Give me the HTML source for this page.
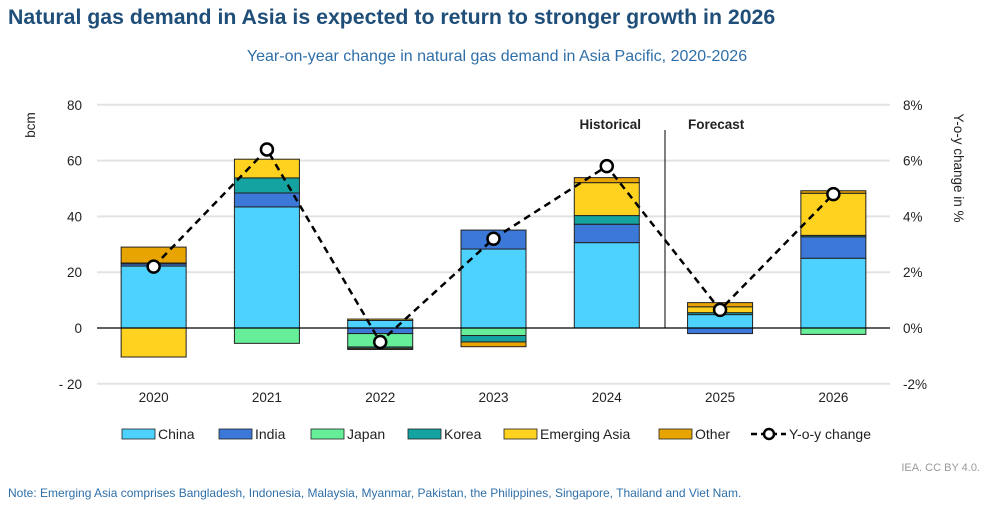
<!DOCTYPE html>
<html><head><meta charset="utf-8"><style>
body{margin:0;background:#fff;font-family:"Liberation Sans",sans-serif;}
svg text{font-family:"Liberation Sans",sans-serif;}
</style></head><body>
<svg id="c" width="986" height="507">
<text x="8" y="24" font-size="21.3" font-weight="bold" fill="#1f4e79">Natural gas demand in Asia is expected to return to stronger growth in 2026</text>
<text x="497" y="61" font-size="16" fill="#2f6fa8" text-anchor="middle">Year-on-year change in natural gas demand in Asia Pacific, 2020-2026</text>
<text x="980" y="471" font-size="11" fill="#999" text-anchor="end">IEA. CC BY 4.0.</text>
<text x="8" y="497" font-size="12" fill="#2f6fa8">Note: Emerging Asia comprises Bangladesh, Indonesia, Malaysia, Myanmar, Pakistan, the Philippines, Singapore, Thailand and Viet Nam.</text>
<g id="plot"></g>
</svg>
<script>
const years=["2020","2021","2022","2023","2024","2025","2026"];
const seriesNames=["China","India","Japan","Korea","Emerging Asia","Other"];
const china=[22.2,43.4,2.7,28.3,30.6,4.8,25.0];
const india=[0.8,5.0,-2.0,6.8,6.6,-2.0,7.7];
const japan=[0,-5.5,-4.8,-2.7,0,0,-2.3];
const korea=[0.3,5.4,-0.5,-2.3,3.1,0.7,0.5];
const emerging=[-10.4,6.7,0.5,0,11.8,2.1,15.1];
const other=[5.7,0,-0.4,-1.7,1.8,1.5,0.9];
const yoy=[2.2,6.4,-0.5,3.2,5.8,0.65,4.8];
const leftTicks=[80,60,40,20,0,-20];
const rightTicks=[8,6,4,2,0,-2];
const colors=["#4dd2ff","#3b78d8","#66ee99","#14a3a0","#ffd21f","#e8a400"];
const NS="http://www.w3.org/2000/svg";
const g=document.getElementById('plot');
const x0=97,x1=890,y0=328,ppu=2.79;
const yL=v=>y0-v*ppu;
const yR=v=>y0-v*10*ppu;
const band=(x1-x0)/years.length;
const xc=i=>x0+band*(i+0.5);
function mk(t,a){const e=document.createElementNS(NS,t);for(const k in a)e.setAttribute(k,a[k]);g.appendChild(e);return e;}
leftTicks.forEach(v=>{
 if(v!==0){const l=mk('line',{x1:x0,x2:x1,y1:yL(v),y2:yL(v),stroke:'#e3e3e3','stroke-width':2});
 
 }
 const t=mk('text',{x:82,y:yL(v)+5,'font-size':13.5,'text-anchor':'end',fill:'#222'});
 
 
 t.textContent=v<0?'- '+(-v):v;
});
rightTicks.forEach(v=>{
 const t=mk('text',{x:903,y:yR(v)+5,'font-size':13.5,fill:'#222'});
 
 
 t.textContent=v+'%';
});
const series=[china,india,japan,korea,emerging,other];
years.forEach((yr,i)=>{
 let pos=0,neg=0;
 series.forEach((s,k)=>{
  const v=s[i];if(!v)return;
  let a,b;
  if(v>0){a=pos;b=pos+v;pos=b;}else{a=neg;b=neg+v;neg=b;}
  const r=mk('rect',{x:xc(i)-32.5,width:65,y:yL(Math.max(a,b)),height:Math.abs(v)*ppu,fill:colors[k],stroke:'#222','stroke-width':1});
  
  
 });
 const t=mk('text',{x:xc(i),y:402,'font-size':13.5,'text-anchor':'middle',fill:'#222'});
 
 
 t.textContent=yr;
});
const z=mk('line',{x1:x0,x2:x1,y1:y0,y2:y0,stroke:'#000','stroke-width':1.2});


const d=mk('line',{x1:665,x2:665,y1:130,y2:y0,stroke:'#000','stroke-width':1});


const h=mk('text',{x:641,y:129,'font-size':13.5,'font-weight':'bold','text-anchor':'end',fill:'#222'});


h.textContent='Historical';
const f=mk('text',{x:688,y:129,'font-size':13.5,'font-weight':'bold',fill:'#222'});


f.textContent='Forecast';
const ln=mk('polyline',{points:yoy.map((v,i)=>xc(i)+','+yR(v)).join(' '),fill:'none',stroke:'#000','stroke-width':2.5,'stroke-dasharray':'7,5'});


yoy.forEach((v,i)=>{const c=mk('circle',{cx:xc(i),cy:yR(v),r:6,fill:'#fff',stroke:'#000','stroke-width':2.5});
 
 });
const bt=mk('text',{x:0,y:0,'font-size':13.5,fill:'#222',transform:'translate(35,125) rotate(-90)','text-anchor':'middle'});


bt.textContent='bcm';
const rt=mk('text',{x:0,y:0,'font-size':13.5,fill:'#222',transform:'translate(954,168) rotate(90)','text-anchor':'middle'});


rt.textContent='Y-o-y change in %';
const lx=[122,219,311,408,504,659];
seriesNames.forEach((n,k)=>{
 const r=mk('rect',{x:lx[k],y:429,width:33,height:10,fill:colors[k],stroke:'#222','stroke-width':0.8});
 
 
 const t=mk('text',{x:lx[k]+36,y:439,'font-size':14,fill:'#222'});
 
 
 t.textContent=n;
});
const ll=mk('line',{x1:751,x2:786,y1:434,y2:434,stroke:'#000','stroke-width':2.5,'stroke-dasharray':'6,4'});


const lc=mk('circle',{cx:769,cy:434,r:5,fill:'#fff',stroke:'#000','stroke-width':2.5});


const lt=mk('text',{x:789,y:439,'font-size':14,fill:'#222'});


lt.textContent='Y-o-y change';
</script>
</body></html>
